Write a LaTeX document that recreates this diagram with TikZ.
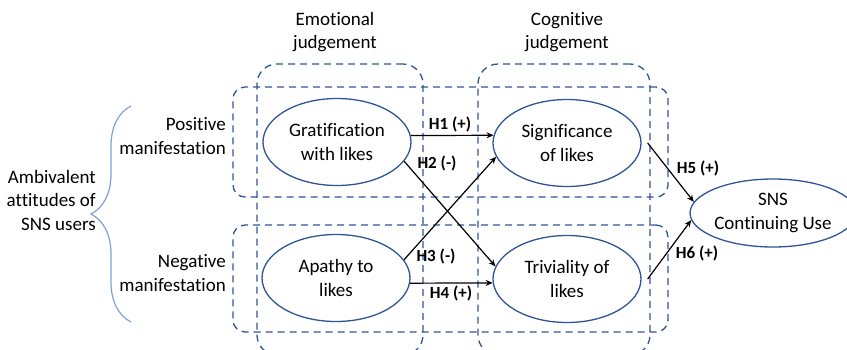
\documentclass[tikz,border=0pt]{standalone}
\usepackage{fontspec}
\setmainfont{Carlito}[Ligatures=NoCommon]
\usepackage{tikz}
\usetikzlibrary{shapes, arrows.meta, positioning, decorations.pathreplacing}
\definecolor{frameblue}{RGB}{47,85,151}
\definecolor{bracecol}{RGB}{130,160,215}

\begin{document}
\begin{tikzpicture}[x=1pt, y=-1pt, >={Stealth[length=7pt,width=6pt]},
    every node/.style={font=\fontsize{19}{23.5}\selectfont, align=center, inner sep=0pt},
    construct/.style={draw=frameblue, line width=1.3pt, ellipse, minimum width=148pt, minimum height=87pt},
    group/.style={draw=frameblue, line width=1.3pt, dash pattern=on 7pt off 5pt, rounded corners=20pt},
    hyp/.style={font=\bfseries\fontsize{17}{20}\selectfont, inner sep=1pt},
    link/.style={->, line width=1.2pt}]
    \useasboundingbox (0,0) rectangle (847,349);
    % groups
    \node[group, minimum width=166pt, minimum height=291pt] (emo) at (340,209.5) {};
    \node[group, minimum width=172pt, minimum height=291pt] (cog) at (564,209.5) {};
    \node[group, minimum width=435pt, minimum height=110pt, rounded corners=12pt] (posrow) at (450.5,142) {};
    \node[group, minimum width=435pt, minimum height=107pt, rounded corners=12pt] (negrow) at (450.5,278.5) {};
    % constructs
    \node[construct] (grat) at (337,142) {Gratification\\with likes};
    \node[construct] (apathy) at (336,278) {Apathy to\\likes};
    \node[construct] (sig) at (567,143) {Significance\\of likes};
    \node[construct] (triv) at (567,279) {Triviality of\\likes};
    \node[construct, minimum height=68pt] (sns) at (773,213) {SNS\\Continuing Use};
    % headings
    \node (emohead) at (335,32) {Emotional\\judgement};
    \node (coghead) at (567,32) {Cognitive\\judgement};
    \node[anchor=east, align=right] (pos) at (226,136) {Positive\\manifestation};
    \node[anchor=east, align=right] (neg) at (226,273) {Negative\\manifestation};
    \node[anchor=east, align=right] (amb) at (96,200) {Ambivalent\\attitudes of\\SNS users};
    \draw[bracecol, line width=1.2pt, decorate, decoration={brace, amplitude=40pt, aspect=0.5}]
        (131,322) -- (131,106);
    % hypotheses
    \draw[link] (grat.5) -- (sig.174);
    \draw[link] (grat.-16) -- (triv.170);
    \draw[link] (apathy.15) -- (sig.-169);
    \draw[link] (apathy.-4) -- (triv.183);
    \draw[link] ([xshift=6pt]sig.east) -- (sns.172);
    \draw[link] ([xshift=6pt]triv.east) -- (sns.185);
    \node[hyp] (h1) at (450,124) {H1 (+)};
    \node[hyp] (h2) at (437,163) {H2 (-)};
    \node[hyp] (h3) at (436,256) {H3 (-)};
    \node[hyp] (h4) at (451,293) {H4 (+)};
    \node[hyp] (h5) at (698,168) {H5 (+)};
    \node[hyp] (h6) at (697,253) {H6 (+)};
\end{tikzpicture}
\end{document}
